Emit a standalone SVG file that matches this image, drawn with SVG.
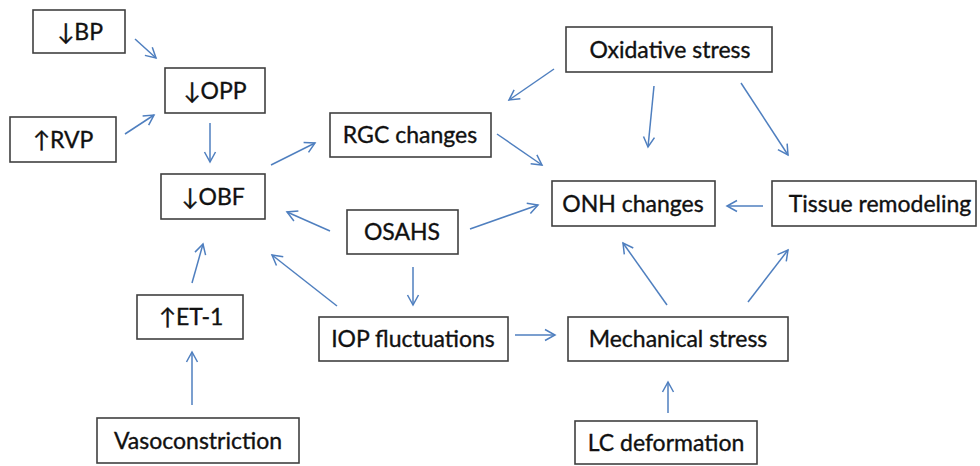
<svg xmlns="http://www.w3.org/2000/svg" width="980" height="466" viewBox="0 0 980 466">
<style>
.box{fill:#fff;stroke:#404040;stroke-width:1.6}
.lbl{font-family:Lato,"DejaVu Sans",sans-serif;font-size:23px;fill:#111;stroke:#111;stroke-width:0.35;text-anchor:middle}
.con line{stroke:#4f7fbf;stroke-width:1.5;marker-end:url(#ah)}
</style>
<defs>
<marker id="ah" markerUnits="userSpaceOnUse" markerWidth="14" markerHeight="14" refX="11" refY="6" orient="auto" viewBox="0 0 14 12">
<path d="M1,0.5 L11,6 L1,11.5" fill="none" stroke="#4f7fbf" stroke-width="1.5"/>
</marker>
</defs>
<rect width="980" height="466" fill="#fff"/>
<g id="bp"><rect class="box" x="33" y="10" width="92" height="43"/><text class="lbl" x="80" y="40">↓BP</text></g>
<g id="opp"><rect class="box" x="165" y="68" width="100" height="45"/><text class="lbl" x="215" y="99">↓OPP</text></g>
<g id="rvp"><rect class="box" x="10" y="117" width="106" height="45"/><text class="lbl" x="63" y="148">↑RVP</text></g>
<g id="obf"><rect class="box" x="161" y="174" width="104" height="45"/><text class="lbl" x="213" y="205">↓OBF</text></g>
<g id="rgc"><rect class="box" x="330" y="113" width="161" height="44"/><text class="lbl" x="410" y="143">RGC changes</text></g>
<g id="oxid"><rect class="box" x="566" y="27" width="206" height="45"/><text class="lbl" x="670" y="58">Oxidative stress</text></g>
<g id="onh"><rect class="box" x="552" y="181" width="163" height="45"/><text class="lbl" x="633" y="212">ONH changes</text></g>
<g id="tissue"><rect class="box" x="772" y="181" width="204" height="45"/><text class="lbl" x="880" y="212">Tissue remodeling</text></g>
<g id="osahs"><rect class="box" x="347" y="210" width="111" height="44"/><text class="lbl" x="402" y="240">OSAHS</text></g>
<g id="et1"><rect class="box" x="137" y="295" width="106" height="44"/><text class="lbl" x="191" y="325">↑ET-1</text></g>
<g id="iop"><rect class="box" x="319" y="317" width="189" height="44"/><text class="lbl" x="413" y="347">IOP fluctuations</text></g>
<g id="mech"><rect class="box" x="568" y="317" width="220" height="44"/><text class="lbl" x="678" y="347">Mechanical stress</text></g>
<g id="vaso"><rect class="box" x="97" y="418" width="202" height="45"/><text class="lbl" x="198" y="449">Vasoconstriction</text></g>
<g id="lc"><rect class="box" x="575" y="421" width="182" height="43"/><text class="lbl" x="666" y="451">LC deformation</text></g>
<g id="connectors" class="con">
<line x1="135" y1="39" x2="156" y2="58"/>
<line x1="125" y1="134" x2="154" y2="115"/>
<line x1="210" y1="123" x2="210" y2="162"/>
<line x1="271" y1="165" x2="315" y2="143"/>
<line x1="330" y1="231" x2="287" y2="212"/>
<line x1="337" y1="306" x2="272" y2="255"/>
<line x1="192" y1="283" x2="203" y2="244"/>
<line x1="192" y1="405" x2="192" y2="352"/>
<line x1="554" y1="69" x2="509" y2="100"/>
<line x1="497" y1="134" x2="542" y2="165"/>
<line x1="654" y1="86" x2="648" y2="147"/>
<line x1="741" y1="83" x2="788" y2="155"/>
<line x1="763" y1="206" x2="727" y2="206"/>
<line x1="470" y1="229" x2="538" y2="205"/>
<line x1="413" y1="267" x2="413" y2="305"/>
<line x1="515" y1="335" x2="555" y2="335"/>
<line x1="667" y1="305" x2="623" y2="243"/>
<line x1="668" y1="413" x2="668" y2="382"/>
<line x1="748" y1="302" x2="788" y2="250"/>
</g>
</svg>
